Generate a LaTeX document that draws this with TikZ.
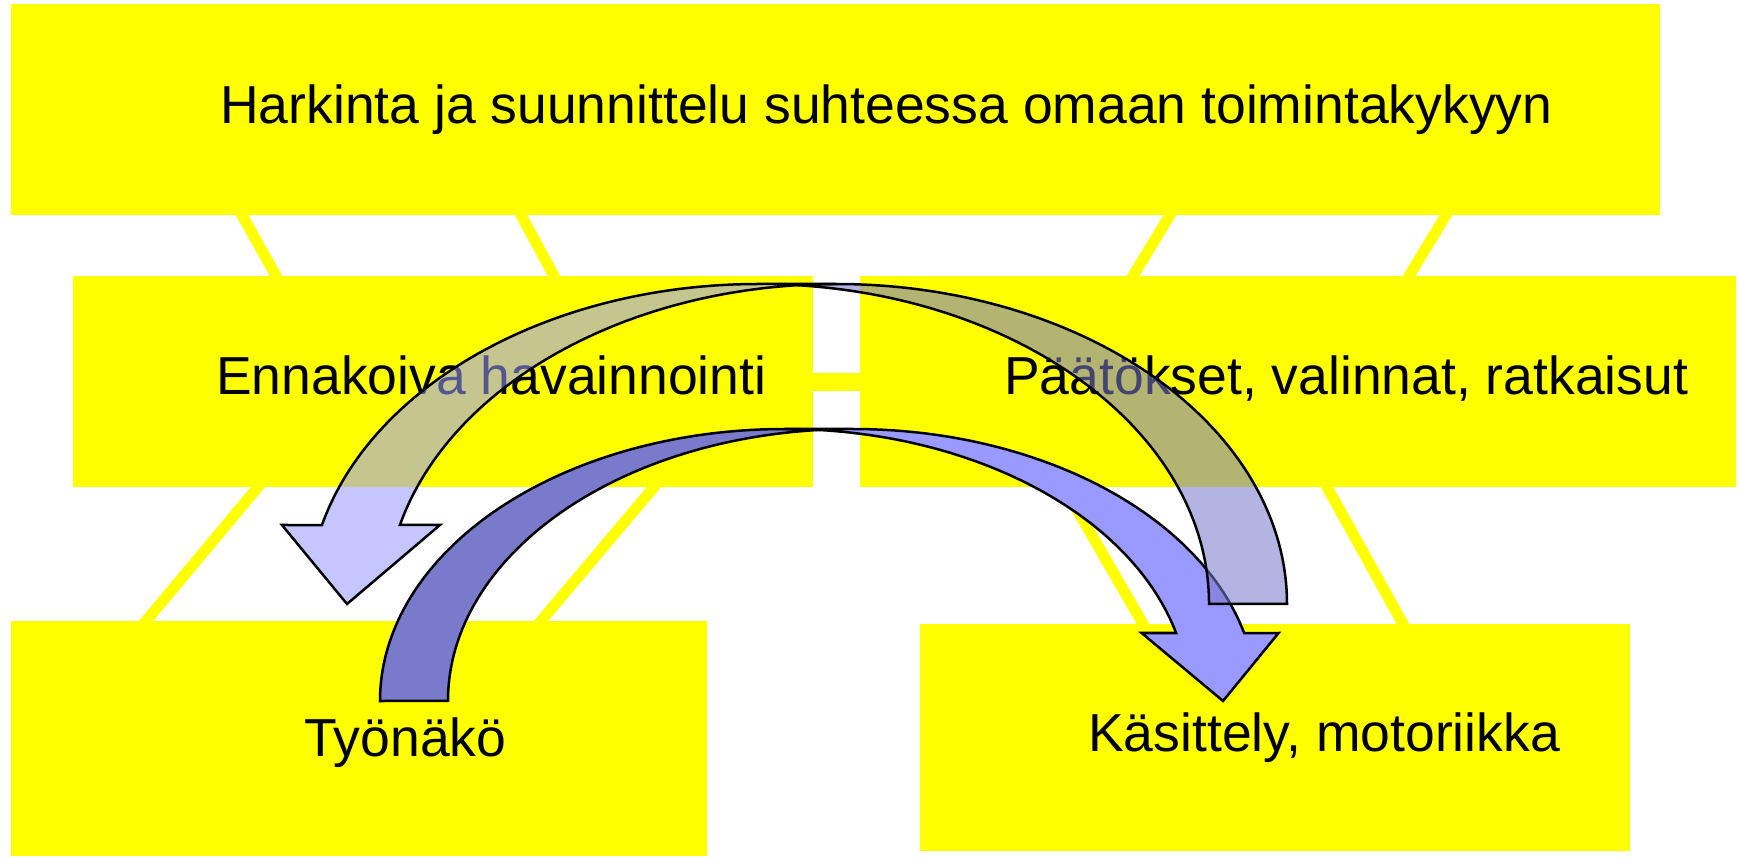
\documentclass[tikz,border=0pt]{standalone}
\usepackage{fontspec}
\setmainfont{Liberation Sans}
\usetikzlibrary{calc}
\definecolor{boxyel}{HTML}{FFFF00}
\definecolor{arrlight}{HTML}{9999FF}
\definecolor{arrdark}{HTML}{7A7ACC}
\tikzset{
  ybox/.style={rectangle, fill=boxyel, draw=none, inner sep=0pt, anchor=north west},
  ylink/.style={draw=boxyel, line width=11pt},
  lbl/.style={anchor=base west, inner sep=0pt, font=\fontsize{53.5}{60}\selectfont, text=black},
  arrline/.style={draw=black, line width=2.5pt, line join=miter},
}
\begin{document}
\begin{tikzpicture}[x=1pt,y=1pt]
\useasboundingbox (0,0) rectangle (1739,857);
\fill[white] (0,0) rectangle (1739,857);

% connector end points
\coordinate (l1a) at (242,642); \coordinate (l1b) at (276,581);
\coordinate (l2a) at (521,642); \coordinate (l2b) at (554,581);
\coordinate (l3a) at (1170,642); \coordinate (l3b) at (1133,581);
\coordinate (l4a) at (1446,642); \coordinate (l4b) at (1409,581);
\coordinate (l5a) at (258,370); \coordinate (l5b) at (146,236);
\coordinate (l6a) at (654,370); \coordinate (l6b) at (541,236);
\coordinate (l7a) at (1064,370); \coordinate (l7b) at (1143,233);
\coordinate (l8a) at (1327,370); \coordinate (l8b) at (1403,233);
\coordinate (bara) at (805,475); \coordinate (barb) at (868,475);

\foreach \p/\q in {l1a/l1b,l2a/l2b,l3a/l3b,l4a/l4b,l5a/l5b,l6a/l6b,l7a/l7b,l8a/l8b}
  \draw[ylink] ($(\p)!-10pt!(\q)$) -- ($(\q)!-10pt!(\p)$);
\draw[ylink, line width=18pt] (bara) -- (barb);

% boxes
\node[ybox, minimum width=1649pt, minimum height=211pt] (top) at (11,853) {};
\node[ybox, minimum width=740pt, minimum height=211pt] (ml) at (73,581) {};
\node[ybox, minimum width=876pt, minimum height=211pt] (mr) at (860,581) {};
\node[ybox, minimum width=696pt, minimum height=235pt] (bl) at (11,236) {};
\node[ybox, minimum width=710pt, minimum height=227pt] (br) at (920,233) {};

% texts
\node[lbl] (toptxt) at (220,733) {Harkinta ja suunnittelu suhteessa omaan toimintakykyyn};
\node[lbl] (mltxt) at (216,462) {Ennakoiva havainnointi};
\node[lbl] (mrtxt) at (1004,462) {Päätökset, valinnat, ratkaisut};
\node[lbl] (bltxt) at (304,101) {Työnäkö};
\node[lbl] (brtxt) at (1088,106) {Käsittely, motoriikka};

% arrow 2 (opaque, from Tyonako over to Kasittely)
\path[arrline, fill=arrdark] (818.5,427.04)
  arc[start angle=94.822, end angle=180, x radius=404.5, y radius=272]
  -- (380,156)
  arc[start angle=180, end angle=85.178, x radius=404.5, y radius=272] -- cycle;
\path[arrline, fill=arrlight] (1223,156) -- (1141.6,224) -- (1176.1,224)
  arc[start angle=14.4775, end angle=90, x radius=404.5, y radius=272]
  -- (852.5,428)
  arc[start angle=90, end angle=14.4775, x radius=404.5, y radius=272]
  -- (1278.6,224) -- cycle;

% arrow 1 (semi-transparent, from Paatokset over to Tyonako)
\path[arrline, fill=arrdark, fill opacity=0.56] (797.5,571.8)
  arc[start angle=85.034, end angle=0, x radius=450.5, y radius=320]
  -- (1287,253)
  arc[start angle=0, end angle=94.966, x radius=450.5, y radius=320] -- cycle;
\path[arrline, fill=arrlight, fill opacity=0.56] (347,253) -- (439.94,332) -- (399.94,332)
  arc[start angle=165.707, end angle=90, x radius=450.5, y radius=320]
  -- (758.5,573)
  arc[start angle=90, end angle=165.707, x radius=450.5, y radius=320]
  -- (281.94,332) -- cycle;
\end{tikzpicture}
\end{document}
